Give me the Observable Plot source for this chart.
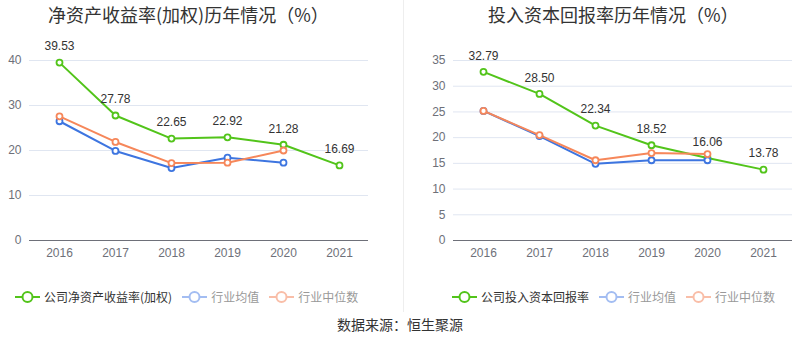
<!DOCTYPE html>
<html><head><meta charset="utf-8">
<script src="https://cdn.jsdelivr.net/npm/d3@7"></script>
<script src="https://cdn.jsdelivr.net/npm/@observablehq/plot@0.6"></script>
<style>
body{margin:0;background:#fff;font-family:"Noto Sans CJK SC","Liberation Sans",sans-serif;}
#wrap{position:relative;width:800px;height:358px;overflow:hidden;}
.title{position:absolute;top:1px;font-size:18px;color:#333;white-space:nowrap;font-family:"Noto Sans CJK SC",sans-serif;}
.panel{position:absolute;top:30px;}
.legend{position:absolute;top:288px;font-size:12px;white-space:nowrap;display:flex;align-items:center;}
.legend .item{display:flex;align-items:center;margin-right:10px;}
.legend svg{margin-right:4px;}
#source{position:absolute;top:314px;left:0;width:800px;text-align:center;font-size:14px;color:#333;}
#divider{position:absolute;left:403px;top:0;width:1px;height:312px;background:#eee;}
</style></head>
<body><div id="wrap">
<div id="divider"></div>
<div class="title" id="t1" style="left:48px">净资产收益率(加权)历年情况（%）</div>
<div class="title" id="t2" style="left:488px">投入资本回报率历年情况（%）</div>
<div class="panel" id="p1" style="left:0"></div>
<div class="panel" id="p2" style="left:400px"></div>
<div class="legend" id="l1" style="left:15px"></div>
<div class="legend" id="l2" style="left:452px"></div>
<div id="source">数据来源：恒生聚源</div>
</div>
<script>
const years = ["2016","2017","2018","2019","2020","2021"];
// ROE (weighted)
const roeCompany = [39.53, 27.78, 22.65, 22.92, 21.28, 16.69];
const roeMean    = [26.5, 19.9, 16.1, 18.4, 17.3, null];
const roeMedian  = [27.6, 21.9, 17.2, 17.3, 20.0, null];
const roeTicks   = [0, 10, 20, 30, 40];
// ROIC
const roicCompany = [32.79, 28.50, 22.34, 18.52, 16.06, 13.78];
const roicMean    = [25.2, 20.3, 14.9, 15.6, 15.6, null];
const roicMedian  = [25.2, 20.5, 15.6, 17.0, 16.8, null];
const roicTicks   = [0, 5, 10, 15, 20, 25, 30, 35];

const seriesNames1 = ["公司净资产收益率(加权)", "行业均值", "行业中位数"];
const seriesNames2 = ["公司投入资本回报率", "行业均值", "行业中位数"];
const colors = ["#52c41a", "#3d75e0", "#f6875a"];
const legendColors = ["#52c41a", "#a3bdf2", "#f9bea8"];
const legendText = ["#333", "#999", "#999"];

function tidy(arr, key) {
  return years.map((y, i) => ({year: y, value: arr[i], key})).filter(d => d.value != null);
}

function makeChart(el, company, mean, median, domainMax, ticks, mLeft, mRight) {
  const sets = [tidy(company, "c"), tidy(mean, "m"), tidy(median, "d")];
  const marks = [
    Plot.gridY(ticks.filter(t => t > 0), {stroke: "#e0e6f1", strokeOpacity: 1}),
    Plot.ruleY([0], {stroke: "#6e7079", strokeWidth: 1}),
    Plot.axisY(ticks, {tickSize: 0, tickPadding: 8, fill: "#6e7079", fontSize: 12}),
    Plot.axisX({tickSize: 0, tickPadding: 8, fill: "#6e7079", fontSize: 12})
  ];
  sets.forEach((s, i) => {
    marks.push(Plot.line(s, {x: "year", y: "value", stroke: colors[i], strokeWidth: 2}));
    marks.push(Plot.dot(s, {x: "year", y: "value", r: 3, fill: "#fff", stroke: colors[i], strokeWidth: 1.8}));
  });
  marks.push(Plot.text(sets[0], {x: "year", y: "value", text: d => d.value.toFixed(2), dy: -16, fill: "#333", fontSize: 12}));
  const chart = Plot.plot({
    width: 400, height: 240,
    marginTop: 30, marginBottom: 30, marginLeft: mLeft, marginRight: mRight,
    style: {fontFamily: "'Liberation Sans', Arial, sans-serif", background: "transparent", overflow: "visible"},
    x: {type: "point", domain: years, padding: 0.5, label: null},
    y: {domain: [0, domainMax], label: null},
    marks
  });
  document.getElementById(el).appendChild(chart);
}

makeChart("p1", roeCompany, roeMean, roeMedian, 40, roeTicks, 29, 32);
makeChart("p2", roicCompany, roicMean, roicMedian, 35, roicTicks, 53, 8);

function legend(el, names) {
  const box = document.getElementById(el);
  names.forEach((n, i) => {
    const item = document.createElement("div");
    item.className = "item";
    item.innerHTML = `<svg width="25" height="14"><line x1="0" x2="25" y1="7" y2="7" stroke="${legendColors[i]}" stroke-width="2"/><circle cx="12.5" cy="7" r="5" fill="#fff" stroke="${legendColors[i]}" stroke-width="2"/></svg><span style="color:${legendText[i]}">${n}</span>`;
    box.appendChild(item);
  });
}
legend("l1", seriesNames1);
legend("l2", seriesNames2);
</script>
</body></html>
